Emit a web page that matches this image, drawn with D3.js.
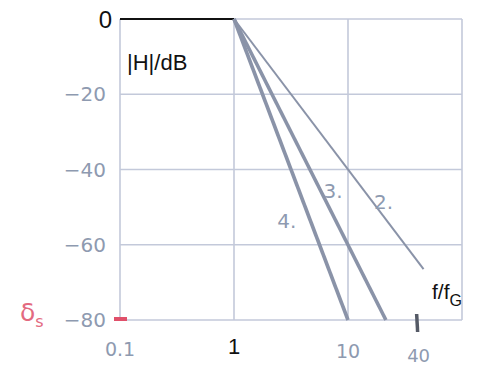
<!DOCTYPE html>
<html>
<head>
<meta charset="utf-8">
<script src="https://cdn.jsdelivr.net/npm/d3@7"></script>
<style>
  body { margin: 0; background: #fff; }
  .hand { font-family: "DejaVu Sans", sans-serif; fill: #8e9ab0; }
  .print { font-family: "Liberation Sans", Arial, sans-serif; fill: #111; }
</style>
</head>
<body>
<div id="chart"></div>
<script>
// frequency ratio f/fG and attenuation in dB
const xTicks = [0.1, 1, 10, 100];
const yTicks = [0, -20, -40, -60, -80];
const xTickLabels = ["0.1", "1", "10"];
const yTickLabels = ["0", "−20", "−40", "−60", "−80"];
const passband = [[0.1, 0], [1, 0]];
const order2 = [[1, 0], [46, -66.5]];
const order3 = [[1, 0], [21.5, -80]];
const order4 = [[1, 0], [10, -80]];
const orderLabels = [
  { text: "2.", f: 20.5, db: -50.5 },
  { text: "3.", f: 7.4, db: -47.5 },
  { text: "4.", f: 2.9, db: -55.5 }
];
const stopMark = { f: 40, label: "40" };

const width = 487, height = 367;
const margin = { top: 19, right: 25, bottom: 47, left: 120 };

const svg = d3.select("#chart").append("svg")
  .attr("width", width)
  .attr("height", height);

const x = d3.scaleLog().domain([0.1, 100]).range([margin.left, width - margin.right]);
const y = d3.scaleLinear().domain([-80, 0]).range([height - margin.bottom, margin.top]);

// grid
svg.append("g").selectAll("line").data(xTicks).join("line")
  .attr("x1", d => x(d)).attr("x2", d => x(d))
  .attr("y1", y(0)).attr("y2", y(-80))
  .attr("stroke", "#c3c9da").attr("stroke-width", 1.6);
svg.append("g").selectAll("line").data(yTicks).join("line")
  .attr("x1", x(0.1)).attr("x2", x(100))
  .attr("y1", d => y(d)).attr("y2", d => y(d))
  .attr("stroke", "#c3c9da").attr("stroke-width", 1.6);

const line = d3.line().x(d => x(d[0])).y(d => y(d[1]));

svg.append("path").attr("d", line(passband))
  .attr("fill", "none").attr("stroke", "#111").attr("stroke-width", 2.2);
svg.append("path").attr("d", line(order2))
  .attr("fill", "none").attr("stroke", "#8a93a8").attr("stroke-width", 2);
svg.append("path").attr("d", line(order3))
  .attr("fill", "none").attr("stroke", "#8a93a8").attr("stroke-width", 3.6);
svg.append("path").attr("d", line(order4))
  .attr("fill", "none").attr("stroke", "#8a93a8").attr("stroke-width", 3.6);

// y labels
svg.append("text").attr("class", "print")
  .attr("x", x(0.1) - 8).attr("y", y(0) + 9)
  .attr("text-anchor", "end").attr("font-size", 24)
  .text(yTickLabels[0]);
svg.append("g").selectAll("text").data(yTicks.slice(1)).join("text")
  .attr("class", "hand")
  .attr("x", x(0.1) - 14).attr("y", d => y(d) + 7)
  .attr("text-anchor", "end").attr("font-size", 20)
  .text((d, i) => yTickLabels[i + 1]);

// x labels
svg.append("text").attr("class", "hand")
  .attr("x", x(xTicks[0])).attr("y", y(-80) + 36)
  .attr("text-anchor", "middle").attr("font-size", 19)
  .text(xTickLabels[0]);
svg.append("text").attr("class", "print")
  .attr("x", x(xTicks[1])).attr("y", y(-80) + 34)
  .attr("text-anchor", "middle").attr("font-size", 22)
  .text(xTickLabels[1]);
svg.append("text").attr("class", "hand")
  .attr("x", x(xTicks[2])).attr("y", y(-80) + 38)
  .attr("text-anchor", "middle").attr("font-size", 19)
  .text(xTickLabels[2]);

// stopband mark at 40
svg.append("line")
  .attr("x1", x(stopMark.f)).attr("x2", x(stopMark.f) + 1)
  .attr("y1", y(-80) - 6).attr("y2", y(-80) + 12)
  .attr("stroke", "#555a66").attr("stroke-width", 3.5);
svg.append("text").attr("class", "hand")
  .attr("x", x(stopMark.f) + 2).attr("y", y(-80) + 42)
  .attr("text-anchor", "middle").attr("font-size", 18)
  .text(stopMark.label);

// attenuation mark
svg.append("line")
  .attr("x1", x(0.1) - 6).attr("x2", x(0.1) + 7)
  .attr("y1", y(-80) - 1).attr("y2", y(-80) - 1)
  .attr("stroke", "#e0506a").attr("stroke-width", 4);
const ds = svg.append("text")
  .attr("x", 20).attr("y", y(-80) + 1)
  .attr("font-family", "DejaVu Sans, sans-serif")
  .attr("font-size", 25).attr("fill", "#e36a80");
ds.append("tspan").text("δ");
ds.append("tspan").attr("font-size", 16).attr("dy", 6).text("s");

// order labels
svg.append("g").selectAll("text").data(orderLabels).join("text")
  .attr("class", "hand")
  .attr("x", d => x(d.f)).attr("y", d => y(d.db))
  .attr("text-anchor", "middle").attr("font-size", 20)
  .text(d => d.text);

// axis titles
svg.append("text").attr("class", "print")
  .attr("x", x(0.1) + 7).attr("y", y(0) + 51)
  .attr("font-size", 22)
  .text("|H|/dB");
const fl = svg.append("text").attr("class", "print")
  .attr("x", 432).attr("y", 299)
  .attr("font-size", 21);
fl.append("tspan").text("f/f");
fl.append("tspan").attr("font-size", 16).attr("dy", 7).text("G");
</script>
</body>
</html>
